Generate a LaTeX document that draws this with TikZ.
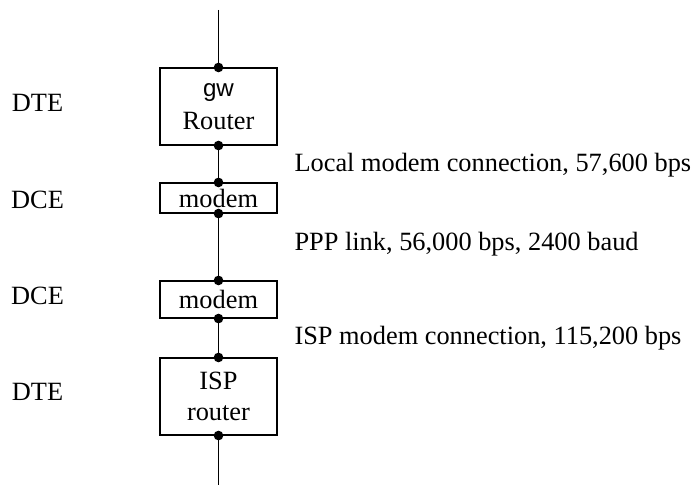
\documentclass[tikz,border=0pt]{standalone}
\usepackage{fontspec}
\setmainfont{Liberation Serif}
\newfontfamily\gwfont{Liberation Sans}
\usepackage{tikz}

\tikzset{
    box/.style={draw, minimum width=1.872cm, inner sep=0pt, align=center},
    side/.style={inner sep=0pt},
}

\begin{document}
\begin{tikzpicture}[x=0.016cm, y=-0.016cm, line width=0.5pt,
    font=\fontsize{12}{14}\selectfont]

        \useasboundingbox (0,0) rectangle (698,485);

        % ====================
        % 1. Boxes along the link
        % ====================
        \coordinate (top) at (218.5,10);
        \coordinate (bottom) at (218.5,485);

        \node[box, minimum height=1.232cm] (gw) at (218.5,106.5)
            {{\gwfont\fontsize{11}{11}\selectfont gw}\\[1pt]Router};
        \node[box, minimum height=0.48cm] (modemA) at (218.5,198) {modem};
        \node[box, minimum height=0.592cm] (modemB) at (218.5,299.5) {modem};
        \node[box, minimum height=1.232cm] (isp) at (218.5,396.5) {ISP\\router};

        \draw (top) -- (gw.north);
        \draw (gw.south) -- (modemA.north);
        \draw (modemA.south) -- (modemB.north);
        \draw (modemB.south) -- (isp.north);
        \draw (isp.south) -- (bottom);

        \foreach \b in {gw, modemA, modemB, isp} {
            \fill (\b.north) circle (2.2pt);
            \fill (\b.south) circle (2.2pt);
        }

        % ====================
        % 2. DTE / DCE roles
        % ====================
        \node[side, anchor=base] (roleA) at (37.5,111) {DTE};
        \node[side, anchor=base] (roleB) at (37.5,208) {DCE};
        \node[side, anchor=base] (roleC) at (37.5,304) {DCE};
        \node[side, anchor=base] (roleD) at (37.5,400) {DTE};

        % ====================
        % 3. Line speeds
        % ====================
        \node[side, anchor=base west] (speedA) at (294,171) {Local modem connection, 57,600 bps};
        \node[side, anchor=base west] (speedB) at (294,250) {PPP link, 56,000 bps, 2400 baud};
        \node[side, anchor=base west] (speedC) at (294,344) {ISP modem connection, 115,200 bps};

    \end{tikzpicture}
\end{document}
